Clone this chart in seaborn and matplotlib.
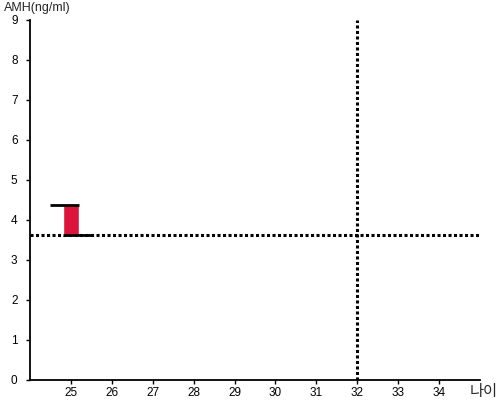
import seaborn as sns
import matplotlib.pyplot as plt

# measured value
ages = [25]
amh_low = [3.63]
amh_high = [4.37]

# reference lines
ref_age = 32
ref_amh = 3.63

x_ticks = [25, 26, 27, 28, 29, 30, 31, 32, 33, 34]
y_ticks = [0, 1, 2, 3, 4, 5, 6, 7, 8, 9]

sns.set_style("ticks")
plt.rcParams['font.family'] = ['Liberation Sans', 'Noto Sans CJK KR', 'DejaVu Sans']

fig = plt.figure(figsize=(5, 4), dpi=100)
ax = fig.add_axes([0.06, 0.05, 0.90, 0.90])

heights = [h - l for h, l in zip(amh_high, amh_low)]
ax.bar(ages, heights, bottom=amh_low, width=0.4, color="#DC143C", zorder=3)
for a, lo, hi in zip(ages, amh_low, amh_high):
    ax.hlines(hi, a - 0.5, a + 0.2, color="black", lw=2, zorder=4)
    ax.hlines(lo, a - 0.2, a + 0.5, color="black", lw=2, zorder=4)

ax.axhline(ref_amh, color="black", lw=2.2, ls=(0, (1, 0.8)), zorder=2)
ax.axvline(ref_age, color="black", lw=2.2, ls=(0, (1, 0.8)), zorder=2)

ax.set_xlim(24, 35)
ax.set_ylim(0, 9)
ax.set_xticks(x_ticks)
ax.set_yticks(y_ticks)
ax.tick_params(labelsize=8.5, length=3, width=1, colors="black", pad=2)
ax.tick_params(axis="y", pad=6)
sns.despine(ax=ax)
for s in ["left", "bottom"]:
    ax.spines[s].set_linewidth(1.3)
    ax.spines[s].set_color("black")

fig.text(0.008, 0.965, "AMH(ng/ml)", fontsize=9, ha="left", va="bottom")
fig.text(0.996, 0.003, "나이", fontsize=11, ha="right", va="bottom")

fig.savefig("out.png", dpi=100)
